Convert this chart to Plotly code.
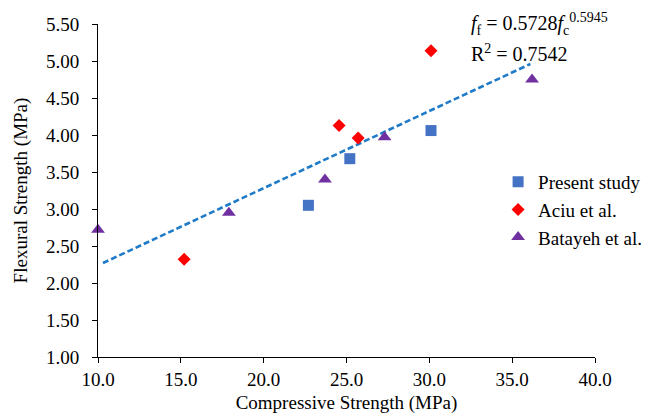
import plotly.graph_objects as go

# Data
present_x = [22.7, 25.2, 30.1]
present_y = [3.05, 3.68, 4.06]

aciu_x = [15.2, 24.55, 25.7, 30.1]
aciu_y = [2.32, 4.13, 3.96, 5.14]

batayeh_x = [10.0, 17.9, 23.7, 27.3, 36.2]
batayeh_y = [2.72, 2.95, 3.40, 3.97, 4.75]

trend_x = [10.3, 36.1]
trend_y = [2.27, 4.96]

x_ticks = [10, 15, 20, 25, 30, 35, 40]
y_ticks = [1.0, 1.5, 2.0, 2.5, 3.0, 3.5, 4.0, 4.5, 5.0, 5.5]

eq_text = "<i>f</i><sub>f</sub> = 0.5728<i>f</i><sub>c</sub><sup>0.5945</sup>"
r2_text = "R<sup>2</sup> = 0.7542"

FONT = "Times New Roman, Liberation Serif, serif"

fig = go.Figure()
fig.add_trace(go.Scatter(x=trend_x, y=trend_y, mode="lines", showlegend=False,
                         line=dict(color="#1F7BC8", width=2.6, dash="6px,3px"),
                         hoverinfo="skip"))
fig.add_trace(go.Scatter(x=present_x, y=present_y, mode="markers", name="Present study",
                         marker=dict(symbol="square", size=11, color="#4472C4"),
                         cliponaxis=False))
fig.add_trace(go.Scatter(x=aciu_x, y=aciu_y, mode="markers", name="Aciu et al.",
                         marker=dict(symbol="diamond", size=10, color="#FF0000"),
                         cliponaxis=False))
fig.add_trace(go.Scatter(x=batayeh_x, y=batayeh_y, mode="markers", name="Batayeh et al.",
                         marker=dict(symbol="triangle-up", size=12, color="#7030A0"),
                         cliponaxis=False))

fig.add_annotation(xref="paper", yref="paper", x=0.748, y=0.956, xanchor="left", yanchor="bottom",
                   align="left", showarrow=False, text=eq_text, borderpad=0,
                   font=dict(family=FONT, size=20, color="black"))
fig.add_annotation(xref="paper", yref="paper", x=0.748, y=0.953, xanchor="left", yanchor="top",
                   align="left", showarrow=False, text=r2_text, borderpad=0,
                   font=dict(family=FONT, size=20, color="black"))

fig.update_layout(
    width=662, height=424,
    margin=dict(l=90, r=75, t=16, b=75),
    paper_bgcolor="white", plot_bgcolor="white",
    font=dict(family=FONT, size=19, color="black"),
    legend=dict(x=0.805, y=0.583, xanchor="left", yanchor="top",
                font=dict(family=FONT, size=19, color="black"),
                bgcolor="rgba(0,0,0,0)", tracegroupgap=0, itemwidth=30),
    xaxis=dict(range=[10, 40], tickvals=x_ticks, ticktext=[f"{v:.1f}" for v in x_ticks],
               showgrid=False, zeroline=False, showline=True, linecolor="black", linewidth=1,
               ticks="outside", ticklen=5, tickcolor="black", automargin=False,
               title=dict(text="Compressive Strength (MPa)", standoff=6,
                          font=dict(family=FONT, size=19, color="black")),
               tickfont=dict(family=FONT, size=19, color="black")),
    yaxis=dict(range=[1, 5.5], tickvals=y_ticks, ticktext=[f"{v:.2f}" for v in y_ticks],
               showgrid=False, zeroline=False, showline=True, linecolor="black", linewidth=1,
               ticks="outside", ticklen=5, tickcolor="black", automargin=False,
               ticklabelstandoff=9,
               title=dict(text="Flexural Strength (MPa)", standoff=13,
                          font=dict(family=FONT, size=19, color="black")),
               tickfont=dict(family=FONT, size=19, color="black")),
)

fig.write_html("out.html")
